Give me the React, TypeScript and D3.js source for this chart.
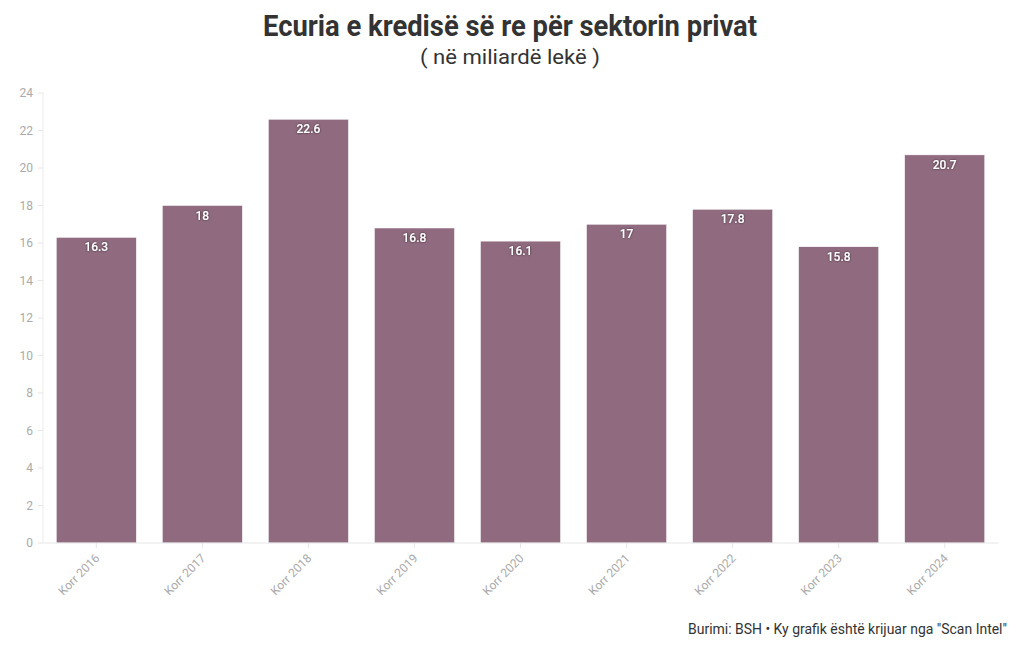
import React from "react";
import * as d3 from "d3";

const categories = ["Korr 2016", "Korr 2017", "Korr 2018", "Korr 2019", "Korr 2020", "Korr 2021", "Korr 2022", "Korr 2023", "Korr 2024"];
const values = [16.3, 18, 22.6, 16.8, 16.1, 17, 17.8, 15.8, 20.7];
const yTicks = [0, 2, 4, 6, 8, 10, 12, 14, 16, 18, 20, 22, 24];
const title = "Ecuria e kredisë së re për sektorin privat";
const subtitle = "( në miliardë lekë )";
const source = "Burimi: BSH • Ky grafik është krijuar nga \"Scan Intel\"";

const W = 1020, H = 650;
const left = 43, right = 998, top = 93, bottom = 543;
const font = "'Roboto', 'Inter', sans-serif";

export default function App() {
  const x = d3.scaleBand<string>().domain(categories).range([left, right]).paddingInner(0.245).paddingOuter(0.125);
  const y = d3.scaleLinear().domain([0, 24]).range([bottom, top]);
  return (
    <svg width={W} height={H} style={{ position: "absolute", left: 0, top: 0, background: "#fff" }}>
      <defs>
        <filter id="sh" x="-20%" y="-20%" width="140%" height="140%">
          <feDropShadow dx="0" dy="0" stdDeviation="1.2" floodColor="#000" floodOpacity="0.7" />
        </filter>
      </defs>
      <text x={263} y={36} textLength={494} lengthAdjust="spacingAndGlyphs" fontFamily={font} fontWeight="bold" fontSize={29} fill="#333">{title}</text>
      <text x={420} y={64} textLength={180} lengthAdjust="spacingAndGlyphs" fontFamily={font} fontSize={21} fill="#333">{subtitle}</text>
      <line x1={left} x2={left} y1={top} y2={bottom} stroke="#ebebeb" />
      {yTicks.map(t => (
        <g key={t}>
          <line x1={left - 5} x2={left} y1={y(t)} y2={y(t)} stroke="#e6e6e6" />
          <text x={left - 10} y={y(t)} dy="0.35em" textAnchor="end" fontFamily={font} fontSize={12} fill="#aaa">{t}</text>
        </g>
      ))}
      {categories.map((c, i) => (
        <g key={c}>
          <rect x={x(c)} y={y(values[i])} width={x.bandwidth()} height={bottom - y(values[i])} fill="#906b80" stroke="#fff" strokeWidth={0.5} />
          <text x={x(c)! + x.bandwidth() / 2} y={y(values[i]) + 14} textAnchor="middle" fontFamily={font} fontSize={12} fontWeight={500} fill="#fff" filter="url(#sh)">{values[i]}</text>
        </g>
      ))}
      <line x1={left} x2={right} y1={bottom} y2={bottom} stroke="#e6e6e6" />
      {categories.map(c => {
        const cx = x(c)! + x.bandwidth() / 2;
        return (
          <g key={"t" + c}>
            <line x1={cx} x2={cx} y1={bottom} y2={bottom + 5} stroke="#e6e6e6" />
            <text transform={`translate(${cx + 4},${bottom + 16}) rotate(-45)`} textAnchor="end" fontFamily={font} fontSize={12} fill="#aaa">{c}</text>
          </g>
        );
      })}
      <text x={688} y={634} textLength={319} lengthAdjust="spacingAndGlyphs" fontFamily={font} fontSize={14} fill="#333">{source}</text>
    </svg>
  );
}
